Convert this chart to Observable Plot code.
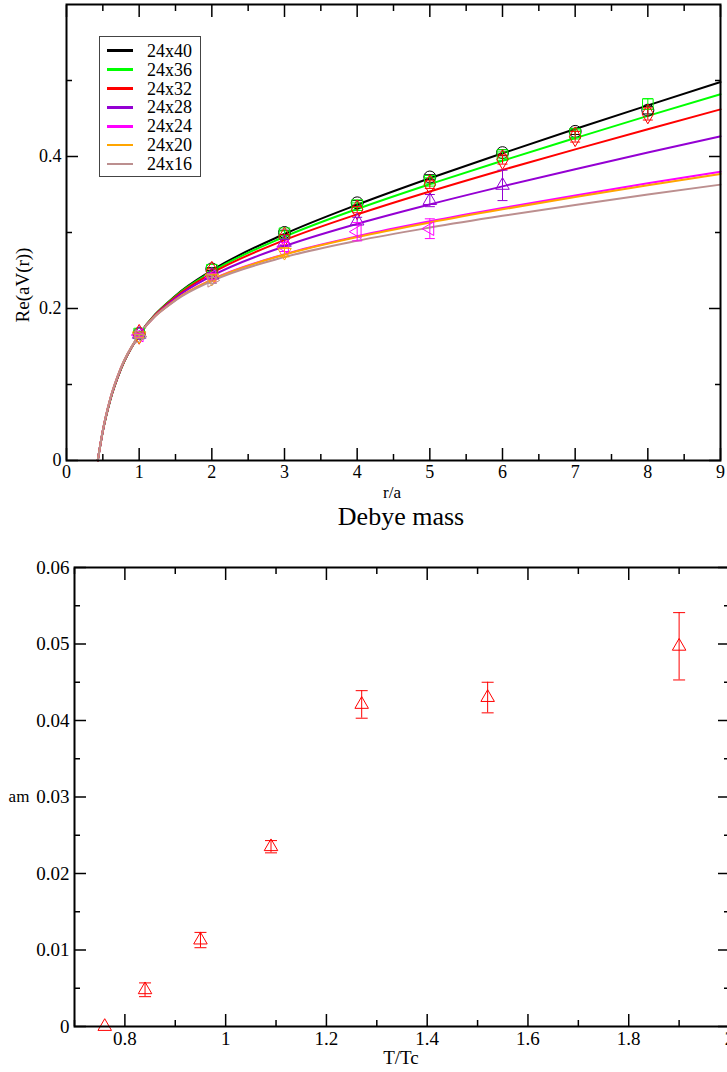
<!DOCTYPE html>
<html><head><meta charset="utf-8">
<script src="https://cdn.jsdelivr.net/npm/d3@7"></script>
<script src="https://cdn.jsdelivr.net/npm/@observablehq/plot@0.6"></script>
<style>
html,body{margin:0;padding:0;background:#fff;overflow:hidden;width:727px;height:1072px;}
#root{position:relative;width:727px;height:1072px;color:#000;overflow:hidden;}
#root, #root div, #root svg, #root svg text{font-family:"Liberation Serif","Times New Roman","DejaVu Serif",serif !important;}
.abs{position:absolute;white-space:nowrap;line-height:1;}
.c{transform:translate(-50%,-50%);}
#root svg{position:absolute;left:0;max-width:none !important;}
</style></head><body><div id="root"></div>
<script>
// ---------- data: top panel ----------
const series = ["24x40","24x36","24x32","24x28","24x24","24x20","24x16"];
const colors = ["#000000","#00ff00","#ff0000","#9400d3","#ff00ff","#ffa500","#bc8f8f"];
const symbolKinds = ["circle","square","diamond","tri-up","tri-left","tri-down","tri-right"];
const rPoints = [1,2,3,4,5,6,7,8];
const v24x40 = [0.167,0.252,0.300,0.339,0.373,0.405,0.433,0.461];
const e24x40 = [0.002,0.002,0.003,0.003,0.003,0.004,0.004,0.005];
const v24x36 = [0.167,0.251,0.299,0.336,0.368,0.402,0.430,0.469];
const e24x36 = [0.002,0.002,0.003,0.003,0.004,0.004,0.005,0.007];
const v24x32 = [0.166,0.249,0.294,0.330,0.363,0.396,0.426,0.456];
const e24x32 = [0.002,0.003,0.003,0.004,0.005,0.006,0.007,0.008];
const v24x28 = [0.166,0.244,0.287,0.315,0.342,0.362];
const e24x28 = [0.002,0.003,0.004,0.005,0.008,0.020];
const v24x24 = [0.165,0.242,0.281,0.301,0.305];
const e24x24 = [0.002,0.004,0.006,0.012,0.013];
const v24x20 = [0.164,0.240,0.274];
const e24x20 = [0.002,0.004,0.006];
const v24x16 = [0.163,0.237];
const e24x16 = [0.002,0.004];

// fit curves
const fitR = [0.43,0.5,0.6,0.75,1,1.5,2,3,4,5,6,7,8,9];
const fit24x40 = [0,0.0385,0.0787,0.1204,0.165,0.2169,0.2502,0.2980,0.3365,0.3713,0.4042,0.4361,0.4673,0.4980];
const fit24x36 = [0,0.0386,0.0790,0.1206,0.165,0.2162,0.2485,0.2944,0.3309,0.3636,0.3945,0.4242,0.4534,0.4820];
const fit24x32 = [0,0.0388,0.0793,0.1209,0.165,0.2152,0.2464,0.2899,0.3238,0.3540,0.3823,0.4094,0.4359,0.4620];
const fit24x28 = [0,0.0391,0.0798,0.1214,0.165,0.2136,0.2428,0.2819,0.3114,0.3370,0.3607,0.3833,0.4052,0.4266];
const fit24x24 = [0,0.0396,0.0805,0.1221,0.165,0.2114,0.2380,0.2715,0.2950,0.3147,0.3323,0.3488,0.3647,0.3800];
const fit24x20 = [0,0.0396,0.0805,0.1221,0.165,0.2112,0.2377,0.2708,0.2940,0.3132,0.3305,0.3467,0.3621,0.3770];
const fit24x16 = [0,0.0397,0.0807,0.1223,0.165,0.2106,0.2362,0.2676,0.2891,0.3065,0.3220,0.3363,0.3499,0.3630];

const topXMajor = [0,1,2,3,4,5,6,7,8,9];
const topXMinor = [0.5,1.5,2.5,3.5,4.5,5.5,6.5,7.5,8.5];
const topYMajor = [0,0.2,0.4];
const topYMinor = [0.1,0.3,0.5];

// ---------- data: bottom panel (Debye mass) ----------
const tTc = [0.76,0.84,0.95,1.09,1.27,1.52,1.90];
const am = [0.0000,0.0048,0.0113,0.0235,0.0421,0.0430,0.0497];
const amErr = [0.0000,0.0009,0.0010,0.0008,0.0018,0.0020,0.0044];
const botXMajor = [0.8,1,1.2,1.4,1.6,1.8,2];
const botXMinor = [0.7,0.9,1.1,1.3,1.5,1.7,1.9];
const botYMajor = [0,0.01,0.02,0.03,0.04,0.05,0.06];
const botYMinor = [0.005,0.015,0.025,0.035,0.045,0.055];

// ---------- build ----------
const values = [v24x40,v24x36,v24x32,v24x28,v24x24,v24x20,v24x16];
const errors = [e24x40,e24x36,e24x32,e24x28,e24x24,e24x20,e24x16];
const fits = [fit24x40,fit24x36,fit24x32,fit24x28,fit24x24,fit24x20,fit24x16];

function tri(angleDeg, k) {
  return {draw(ctx, size) {
    const R = Math.sqrt(size / Math.PI) * k;
    const a0 = angleDeg * Math.PI / 180;
    for (let i = 0; i < 3; i++) {
      const a = a0 + i * 2 * Math.PI / 3;
      const x = R * Math.cos(a), y = R * Math.sin(a);
      if (i) ctx.lineTo(x, y); else ctx.moveTo(x, y);
    }
    ctx.closePath();
  }};
}
const cap = {draw(ctx, size) { const w = Math.sqrt(size / Math.PI); ctx.moveTo(-w, 0); ctx.lineTo(w, 0); }};
const symbolMap = {
  "circle": "circle", "square": "square", "diamond": "diamond",
  "tri-up": tri(-90, 1.3), "tri-left": tri(180, 1.3), "tri-down": tri(90, 1.3), "tri-right": tri(0, 1.3)
};
const fmt = d => String(+(+d).toFixed(4));
const blank = () => "";

function frameAxes(xMajor, xMinor, yMajor, yMinor) {
  const sw = 1.5;
  return [
    Plot.axisX({anchor: "bottom", ticks: xMajor, tickSize: -12, tickPadding: 17, tickFormat: fmt, label: null, strokeWidth: sw}),
    Plot.axisX({anchor: "bottom", ticks: xMinor, tickSize: -6, tickFormat: blank, label: null, strokeWidth: sw}),
    Plot.axisX({anchor: "top", ticks: xMajor, tickSize: -12, tickFormat: blank, label: null, strokeWidth: sw}),
    Plot.axisX({anchor: "top", ticks: xMinor, tickSize: -6, tickFormat: blank, label: null, strokeWidth: sw}),
    Plot.axisY({anchor: "left", ticks: yMajor, tickSize: -12, tickPadding: 17, tickFormat: fmt, label: null, strokeWidth: sw}),
    Plot.axisY({anchor: "left", ticks: yMinor, tickSize: -6, tickFormat: blank, label: null, strokeWidth: sw}),
    Plot.axisY({anchor: "right", ticks: yMajor, tickSize: -12, tickFormat: blank, label: null, strokeWidth: sw}),
    Plot.axisY({anchor: "right", ticks: yMinor, tickSize: -6, tickFormat: blank, label: null, strokeWidth: sw}),
    Plot.frame({stroke: "black", strokeWidth: 2})
  ];
}

// top panel marks
const topMarks = [];
series.forEach((s, i) => {
  const rows = fitR.map((r, j) => ({r, v: fits[i][j]}));
  topMarks.push(Plot.line(rows, {x: "r", y: "v", stroke: colors[i], strokeWidth: 2, curve: "monotone-x"}));
});
series.forEach((s, i) => {
  const rows = values[i].map((v, j) => ({r: rPoints[j], v, e: errors[i][j]}));
  topMarks.push(Plot.ruleX(rows, {x: "r", y1: d => d.v - d.e, y2: d => d.v + d.e, stroke: colors[i], strokeWidth: 1}));
  topMarks.push(Plot.dot(rows, {x: "r", y: d => d.v + d.e, symbol: cap, r: 5, stroke: colors[i], fill: "none", strokeWidth: 1}));
  topMarks.push(Plot.dot(rows, {x: "r", y: d => d.v - d.e, symbol: cap, r: 5, stroke: colors[i], fill: "none", strokeWidth: 1}));
  topMarks.push(Plot.dot(rows, {x: "r", y: "v", symbol: symbolMap[symbolKinds[i]], r: 6, stroke: colors[i], fill: "none", strokeWidth: 1}));
});

const topPlot = Plot.plot({
  width: 727, height: 505,
  marginLeft: 66, marginRight: 7, marginTop: 4, marginBottom: 45,
  style: {fontFamily: "Liberation Serif", fontSize: "18px", color: "black", background: "transparent", overflow: "visible"},
  x: {domain: [0, 9]},
  y: {domain: [0, 0.6]},
  marks: [...topMarks, ...frameAxes(topXMajor, topXMinor, topYMajor, topYMinor)]
});
topPlot.style.top = "0px";

// bottom panel marks
const botRows = tTc.map((t, i) => ({t, m: am[i], e: amErr[i]}));
const botPlot = Plot.plot({
  width: 740, height: 532,
  marginLeft: 74, marginRight: 11, marginTop: 27, marginBottom: 46,
  style: {fontFamily: "Liberation Serif", fontSize: "19px", color: "black", background: "transparent", overflow: "visible"},
  x: {domain: [0.7, 2.0]},
  y: {domain: [0, 0.06]},
  marks: [
    Plot.ruleX(botRows.filter(d => d.e > 0), {x: "t", y1: d => d.m - d.e, y2: d => d.m + d.e, stroke: "#ff0000", strokeWidth: 1}),
    Plot.dot(botRows.filter(d => d.e > 0), {x: "t", y: d => d.m + d.e, symbol: cap, r: 6, stroke: "#ff0000", fill: "none", strokeWidth: 1}),
    Plot.dot(botRows.filter(d => d.e > 0), {x: "t", y: d => d.m - d.e, symbol: cap, r: 6, stroke: "#ff0000", fill: "none", strokeWidth: 1}),
    Plot.dot(botRows, {x: "t", y: "m", symbol: tri(-90, 1.3), r: 6, stroke: "#ff0000", fill: "none", strokeWidth: 1}),
    ...frameAxes(botXMajor, botXMinor, botYMajor, botYMinor)
  ]
});
botPlot.style.top = "540px";
botPlot.style.maxWidth = "none";
topPlot.style.maxWidth = "none";

const root = document.getElementById("root");
root.appendChild(topPlot);
root.appendChild(botPlot);

function label(text, x, y, size, extra) {
  const d = document.createElement("div");
  d.className = "abs c";
  d.textContent = text;
  d.style.left = x + "px"; d.style.top = y + "px"; d.style.fontSize = size + "px";
  if (extra) d.style.transform = extra;
  root.appendChild(d);
}
label("r/a", 392, 492, 17);
label("Re(aV(r))", 22, 285, 19, "translate(-50%,-50%) rotate(-90deg)");
label("Debye mass", 401, 517, 26);
label("am", 19, 796, 17);
label("T/Tc", 401, 1057, 19);

// legend (inside top frame)
const leg = document.createElement("div");
leg.className = "abs";
Object.assign(leg.style, {left: "99px", top: "36px", width: "100px", height: "139px", border: "1.5px solid #444", background: "#fff"});
root.appendChild(leg);
series.forEach((s, i) => {
  const y = 50.7 + 18.9 * i;
  const ln = document.createElement("div");
  ln.className = "abs";
  Object.assign(ln.style, {left: "107px", top: (y - 1.25) + "px", width: "26px", height: "2.5px", background: colors[i]});
  root.appendChild(ln);
  const t = document.createElement("div");
  t.className = "abs";
  t.textContent = s;
  Object.assign(t.style, {left: "147px", top: (y - 9) + "px", fontSize: "18px"});
  root.appendChild(t);
});
</script></body></html>
